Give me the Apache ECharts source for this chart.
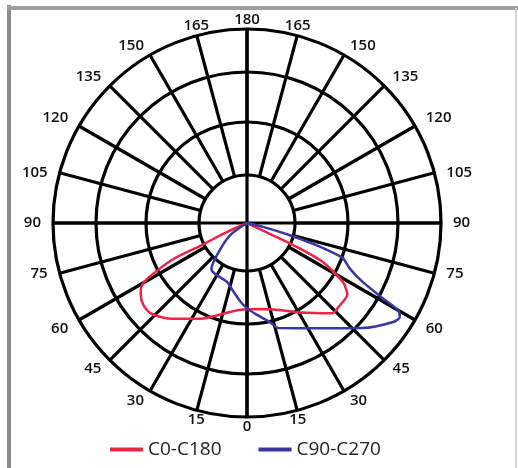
<!DOCTYPE html>
<html>
<head>
<meta charset="utf-8">
<script src="https://cdn.jsdelivr.net/npm/echarts@6/dist/echarts.min.js"></script>
<style>html,body{margin:0;padding:0;background:#fff}#c{width:518px;height:468px}</style>
</head>
<body>
<div id="c"></div>
<script>
// Series names
const seriesNames = ['C0-C180', 'C90-C270'];
// Angle (gamma, degrees, 0 = nadir, counter-clockwise to the right) and intensity values
const redAngles  = [294, 294.2, 296, 296, 299.2, 301, 303.9, 308, 313.2, 320.2, 333.9, 351.1, 360, 14.8, 30.5, 43.4, 47.9, 54.5, 58.4, 62.8, 64.4, 64.6, 66];
const redValues  = [0, 23, 53, 84, 118, 127, 132, 136, 136, 128, 110, 92, 89, 92, 107, 128, 128, 127, 116, 87, 52, 26, 0];
const blueAngles = [306, 306, 316.8, 322.3, 327.7, 341, 348.8, 355, 360, 6, 13.1, 16.6, 32.1, 43.3, 47.7, 55.9, 58.4, 60, 61, 63.1, 66.1, 69.7, 70.5, 72.3, 74.1, 76.5, 78];
const blueValues = [0, 22, 45, 60, 62, 64, 72, 81, 88, 95, 105, 113, 128, 149, 161, 182, 185, 180, 160, 133, 116, 106, 100, 75, 46, 17, 0];
// Radius axis range and angle tick step
const radiusMax = 200;
const angleStep = 15;

function pairs(r, a) { return r.map((v, i) => [v, a[i]]); }

const CX = 247, CY = 223, R = 194;
const chart = echarts.init(document.getElementById('c'), null, {renderer: 'canvas'});
const black = {color: '#000', width: 3.2};
const baseAngle = {type: 'value', min: 0, max: 360, startAngle: 270, clockwise: false,
  axisTick: {show: false}};
const labelFont = {fontSize: 15, fontWeight: 600, color: '#111', fontFamily: 'Open Sans'};
const rich = {};
for (let p = 0; p <= 10; p++) rich['p' + p] = Object.assign({padding: [0, p, 0, p]}, labelFont);
const option = {
  animation: false,
  backgroundColor: '#fff',
  graphic: [
    {type: 'line', shape: {x1: 9, y1: 5, x2: 9, y2: 468}, style: {stroke: '#8c8c8c', lineWidth: 4}},
    {type: 'line', shape: {x1: 7, y1: 8, x2: 518, y2: 8}, style: {stroke: '#a0a0a0', lineWidth: 4}},
    {type: 'line', shape: {x1: 516, y1: 8, x2: 516, y2: 468}, style: {stroke: '#d4d4d4', lineWidth: 2}}
  ],
  polar: [
    {center: [CX, CY], radius: R},
    {center: [CX, CY], radius: [48, R]},
    {center: [CX, CY], radius: [101, 151]}
  ],
  angleAxis: [
    Object.assign({}, baseAngle, {polarIndex: 0, interval: 90, axisLine: {show: false},
      axisLabel: {show: false}, splitLine: {show: true, lineStyle: black}}),
    Object.assign({}, baseAngle, {polarIndex: 1, interval: angleStep,
      axisLine: {show: true, lineStyle: black},
      axisLabel: Object.assign({show: true, margin: 2, rich: rich,
        formatter: v => {
          if (v >= 360) return '';
          const pad = Math.round(10 * Math.abs(Math.sin(v * Math.PI / 180)));
          return '{p' + pad + '|' + (v <= 180 ? v : 360 - v) + '}';
        }}, labelFont),
      splitLine: {show: true, lineStyle: black}}),
    Object.assign({}, baseAngle, {polarIndex: 2, interval: 90,
      axisLine: {show: true, lineStyle: black}, axisLabel: {show: false}, splitLine: {show: false}})
  ],
  radiusAxis: [
    {polarIndex: 0, type: 'value', min: 0, max: radiusMax, show: false},
    {polarIndex: 1, type: 'value', min: 0, max: radiusMax, show: false},
    {polarIndex: 2, type: 'value', min: 0, max: radiusMax, show: false}
  ],
  legend: {
    data: seriesNames, top: 435, left: 105, icon: 'rect', itemWidth: 33, itemHeight: 4,
    itemGap: 37, textStyle: {fontSize: 19, color: '#222', fontFamily: 'Open Sans'}
  },
  series: [
    {name: seriesNames[0], type: 'line', coordinateSystem: 'polar', polarIndex: 0,
      data: pairs(redValues, redAngles), showSymbol: false, symbol: 'none', smooth: 0.25,
      color: '#ee2346', lineStyle: {width: 2.5, color: '#ee2346'}, z: 5},
    {name: seriesNames[1], type: 'line', coordinateSystem: 'polar', polarIndex: 0,
      data: pairs(blueValues, blueAngles), showSymbol: false, symbol: 'none', smooth: 0.25,
      color: '#3a37a0', lineStyle: {width: 2.5, color: '#3a37a0'}, z: 5}
  ]
};
chart.setOption(option);
</script>
</body>
</html>
